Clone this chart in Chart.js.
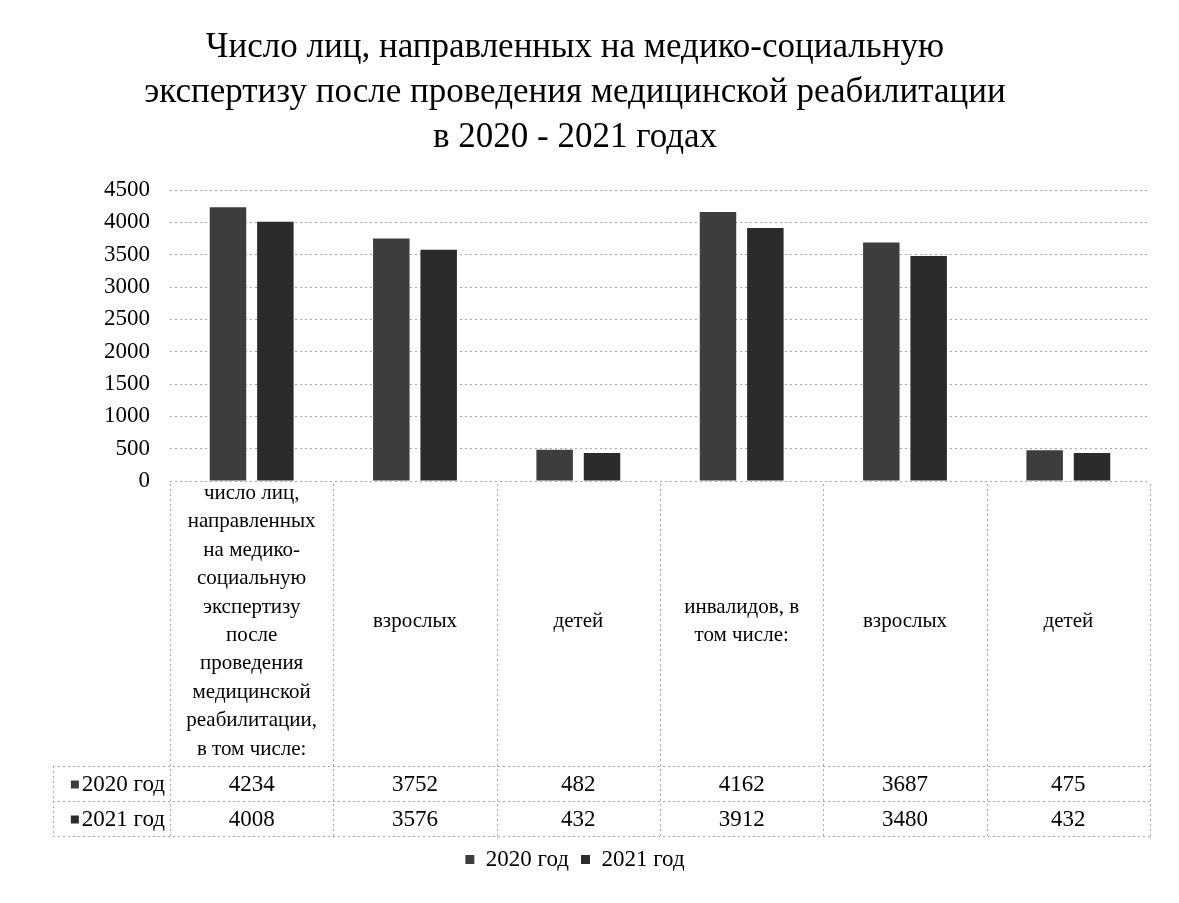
<!DOCTYPE html>
<html>
<head>
<meta charset="utf-8">
<script src="https://cdn.jsdelivr.net/npm/chart.js@4.4.0/dist/chart.umd.min.js"></script>
<style>
    html, body { margin: 0; padding: 0; background: #fff; }
    #wrap { width: 1179px; height: 903px; }
</style>
</head>
<body>
<div id="wrap"><canvas id="mseChart"></canvas></div>
<script>
// ── Data ──────────────────────────────────────────────────────────────────
const categories = [
    ['число лиц,', 'направленных', 'на медико-', 'социальную', 'экспертизу', 'после',
     'проведения', 'медицинской', 'реабилитации,', 'в том числе:'],
    'взрослых',
    'детей',
    ['инвалидов, в', 'том числе:'],
    'взрослых',
    'детей'
];
const seriesNames = ['2020 год', '2021 год'];
const values2020 = [4234, 3752, 482, 4162, 3687, 475];
const values2021 = [4008, 3576, 432, 3912, 3480, 432];
const titleLines = [
    'Число лиц, направленных на медико-социальную',
    'экспертизу после проведения медицинской реабилитации',
    'в 2020 - 2021 годах'
];
const yMin = 0, yMax = 4500, yStep = 500;

const colors = ['#3d3d3d', '#2b2b2b'];
const serif = '"Liberation Serif", "Times New Roman", serif';
const gridColor = '#a8a8a8';

// ── Data table under the x axis (rows drawn from the x scale) ─────────────
const rowHeight = 35;
const tableRows = [values2020, values2021];

const dataTablePlugin = {
    id: 'dataTable',
    afterDraw(chart) {
        const ctx = chart.ctx;
        const x = chart.scales.x;
        const area = chart.chartArea;
        const half = (x.getPixelForValue(1) - x.getPixelForValue(0)) / 2;
        const tableBottom = x.bottom;
        const rowsTop = tableBottom - rowHeight * tableRows.length;
        const headLeft = 53;

        ctx.save();
        ctx.strokeStyle = gridColor;
        ctx.lineWidth = 1;
        ctx.setLineDash([2, 3]);

        // vertical cell borders
        for (let i = 0; i <= categories.length; i++) {
            const px = Math.round(x.getPixelForValue(i) - half) + 0.5;
            ctx.beginPath();
            ctx.moveTo(px, area.bottom + 3);
            ctx.lineTo(px, tableBottom);
            ctx.stroke();
        }
        ctx.beginPath();
        ctx.moveTo(headLeft + 0.5, rowsTop);
        ctx.lineTo(headLeft + 0.5, tableBottom);
        ctx.stroke();

        // horizontal row borders
        for (let r = 0; r <= tableRows.length; r++) {
            const py = Math.round(rowsTop + r * rowHeight) + 0.5;
            ctx.beginPath();
            ctx.moveTo(headLeft, py);
            ctx.lineTo(area.right, py);
            ctx.stroke();
        }
        ctx.setLineDash([]);

        // row headers + values
        ctx.fillStyle = '#000';
        ctx.font = '23px ' + serif;
        ctx.textBaseline = 'middle';
        tableRows.forEach((vals, r) => {
            const cy = rowsTop + r * rowHeight + rowHeight / 2 + 1;
            ctx.textAlign = 'right';
            ctx.fillText(seriesNames[r], area.left - 5, cy);
            const tw = ctx.measureText(seriesNames[r]).width;
            ctx.fillStyle = colors[r];
            ctx.fillRect(area.left - 5 - tw - 11, cy - 4, 8, 8);
            ctx.fillStyle = '#000';
            ctx.textAlign = 'center';
            vals.forEach((v, i) => ctx.fillText(String(v), x.getPixelForValue(i), cy));
        });
        ctx.restore();
    }
};

// ── Chart ─────────────────────────────────────────────────────────────────
Chart.defaults.font.family = serif;
Chart.defaults.color = '#000';

const mseChart = new Chart(document.getElementById('mseChart').getContext('2d'), {
    type: 'bar',
    data: {
        labels: categories,
        datasets: [
            { label: seriesNames[0], data: values2020, backgroundColor: colors[0] },
            { label: seriesNames[1], data: values2021, backgroundColor: colors[1] }
        ]
    },
    options: {
        responsive: true,
        maintainAspectRatio: false,
        animation: false,
        categoryPercentage: 0.58,
        barPercentage: 0.77,
        layout: { padding: { left: 0, right: 29, top: 0, bottom: 22 } },
        plugins: {
            title: {
                display: true,
                text: titleLines,
                font: { size: 35, weight: 'normal', lineHeight: 1.286 },
                color: '#000',
                padding: { top: 25, bottom: 30 }
            },
            legend: {
                position: 'bottom',
                labels: { boxWidth: 9, boxHeight: 9, font: { size: 23 }, padding: 12 }
            },
            tooltip: { enabled: false }
        },
        scales: {
            x: {
                grid: { display: false, drawTicks: false },
                border: { display: false },
                ticks: {
                    font: { size: 21, lineHeight: 1.357 },
                    maxRotation: 0,
                    minRotation: 0,
                    autoSkip: false,
                    crossAlign: 'center',
                    padding: 12
                },
                afterFit: s => { s.height = 355; }
            },
            y: {
                min: yMin,
                max: yMax,
                grid: { color: gridColor, drawTicks: false },
                border: { display: false, dash: [2, 3] },
                ticks: { stepSize: yStep, font: { size: 23 }, padding: 20, callback: v => String(v) },
                afterFit: s => { s.width = 170; }
            }
        }
    },
    plugins: [dataTablePlugin]
});
</script>
</body>
</html>
